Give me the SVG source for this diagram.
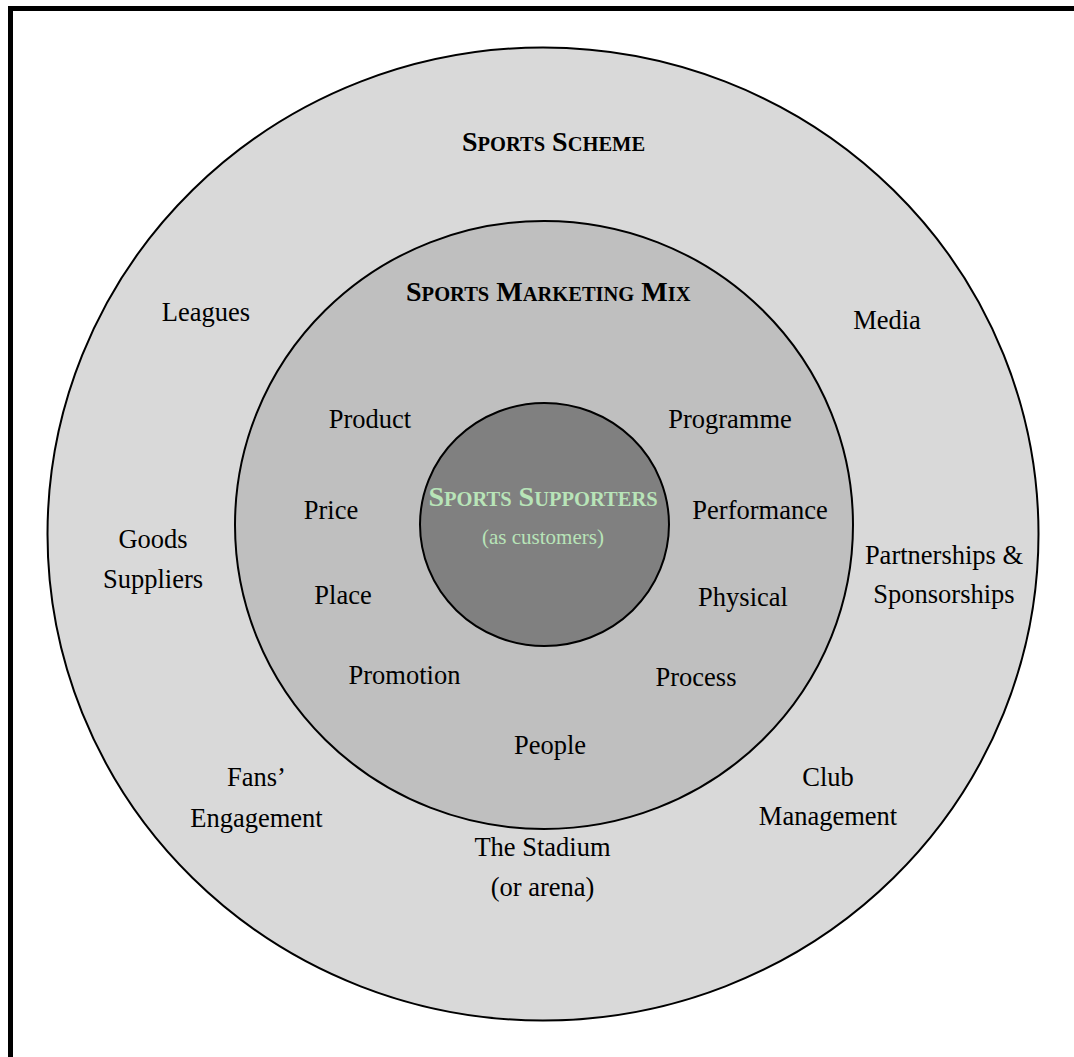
<svg xmlns="http://www.w3.org/2000/svg" width="1074" height="1057" viewBox="0 0 1074 1057">
<style>
.ring{stroke:#000;stroke-width:2}
.t{font-family:"Liberation Serif","Times New Roman",serif;font-size:26.5px;fill:#000;text-anchor:middle}
.h{font-family:"Liberation Serif","Times New Roman",serif;font-size:28px;font-weight:bold;fill:#000;text-anchor:middle}
.sc{font-size:20.5px}
.g{fill:#b8e4b8}
.sub{font-family:"Liberation Serif","Times New Roman",serif;font-size:21px;fill:#b8e4b8;text-anchor:middle}
</style>
<rect width="1074" height="1057" fill="#fff"/>
<g id="frame">
<path d="M10.5 1057 V8.5 H1074" fill="none" stroke="#000" stroke-width="5"/>
</g>
<g id="sports-scheme">
<ellipse class="ring" cx="543" cy="534" rx="495.5" ry="486.5" fill="#d9d9d9"/>
<text class="h" x="553.5" y="151">S<tspan class="sc">PORTS</tspan> S<tspan class="sc">CHEME</tspan></text>
<text class="t" x="206" y="321">Leagues</text>
<text class="t" x="887" y="329">Media</text>
<text class="t" x="153" y="548">Goods</text>
<text class="t" x="153" y="588">Suppliers</text>
<text class="t" x="944" y="564">Partnerships &amp;</text>
<text class="t" x="944" y="603">Sponsorships</text>
<text class="t" x="256.5" y="786">Fans’</text>
<text class="t" x="256.5" y="827">Engagement</text>
<text class="t" x="828" y="786">Club</text>
<text class="t" x="828" y="825">Management</text>
<text class="t" x="542.5" y="856">The Stadium</text>
<text class="t" x="542.5" y="896">(or arena)</text>
</g>
<g id="marketing-mix">
<ellipse class="ring" cx="544" cy="525" rx="309" ry="304" fill="#bfbfbf"/>
<text class="h" x="548.3" y="301">S<tspan class="sc">PORTS</tspan> M<tspan class="sc">ARKETING</tspan> M<tspan class="sc">IX</tspan></text>
<text class="t" x="370" y="428">Product</text>
<text class="t" x="730" y="428">Programme</text>
<text class="t" x="331" y="519">Price</text>
<text class="t" x="760" y="519">Performance</text>
<text class="t" x="343" y="604">Place</text>
<text class="t" x="743" y="606">Physical</text>
<text class="t" x="404.5" y="684">Promotion</text>
<text class="t" x="696" y="686">Process</text>
<text class="t" x="550" y="754">People</text>
</g>
<g id="supporters">
<ellipse class="ring" cx="544.5" cy="524.5" rx="124.5" ry="121.5" fill="#808080"/>
<text class="h g" x="543" y="506">S<tspan class="sc">PORTS</tspan> S<tspan class="sc">UPPORTERS</tspan></text>
<text class="sub" x="543" y="544">(as customers)</text>
</g>
<g id="connectors"/>
</svg>
